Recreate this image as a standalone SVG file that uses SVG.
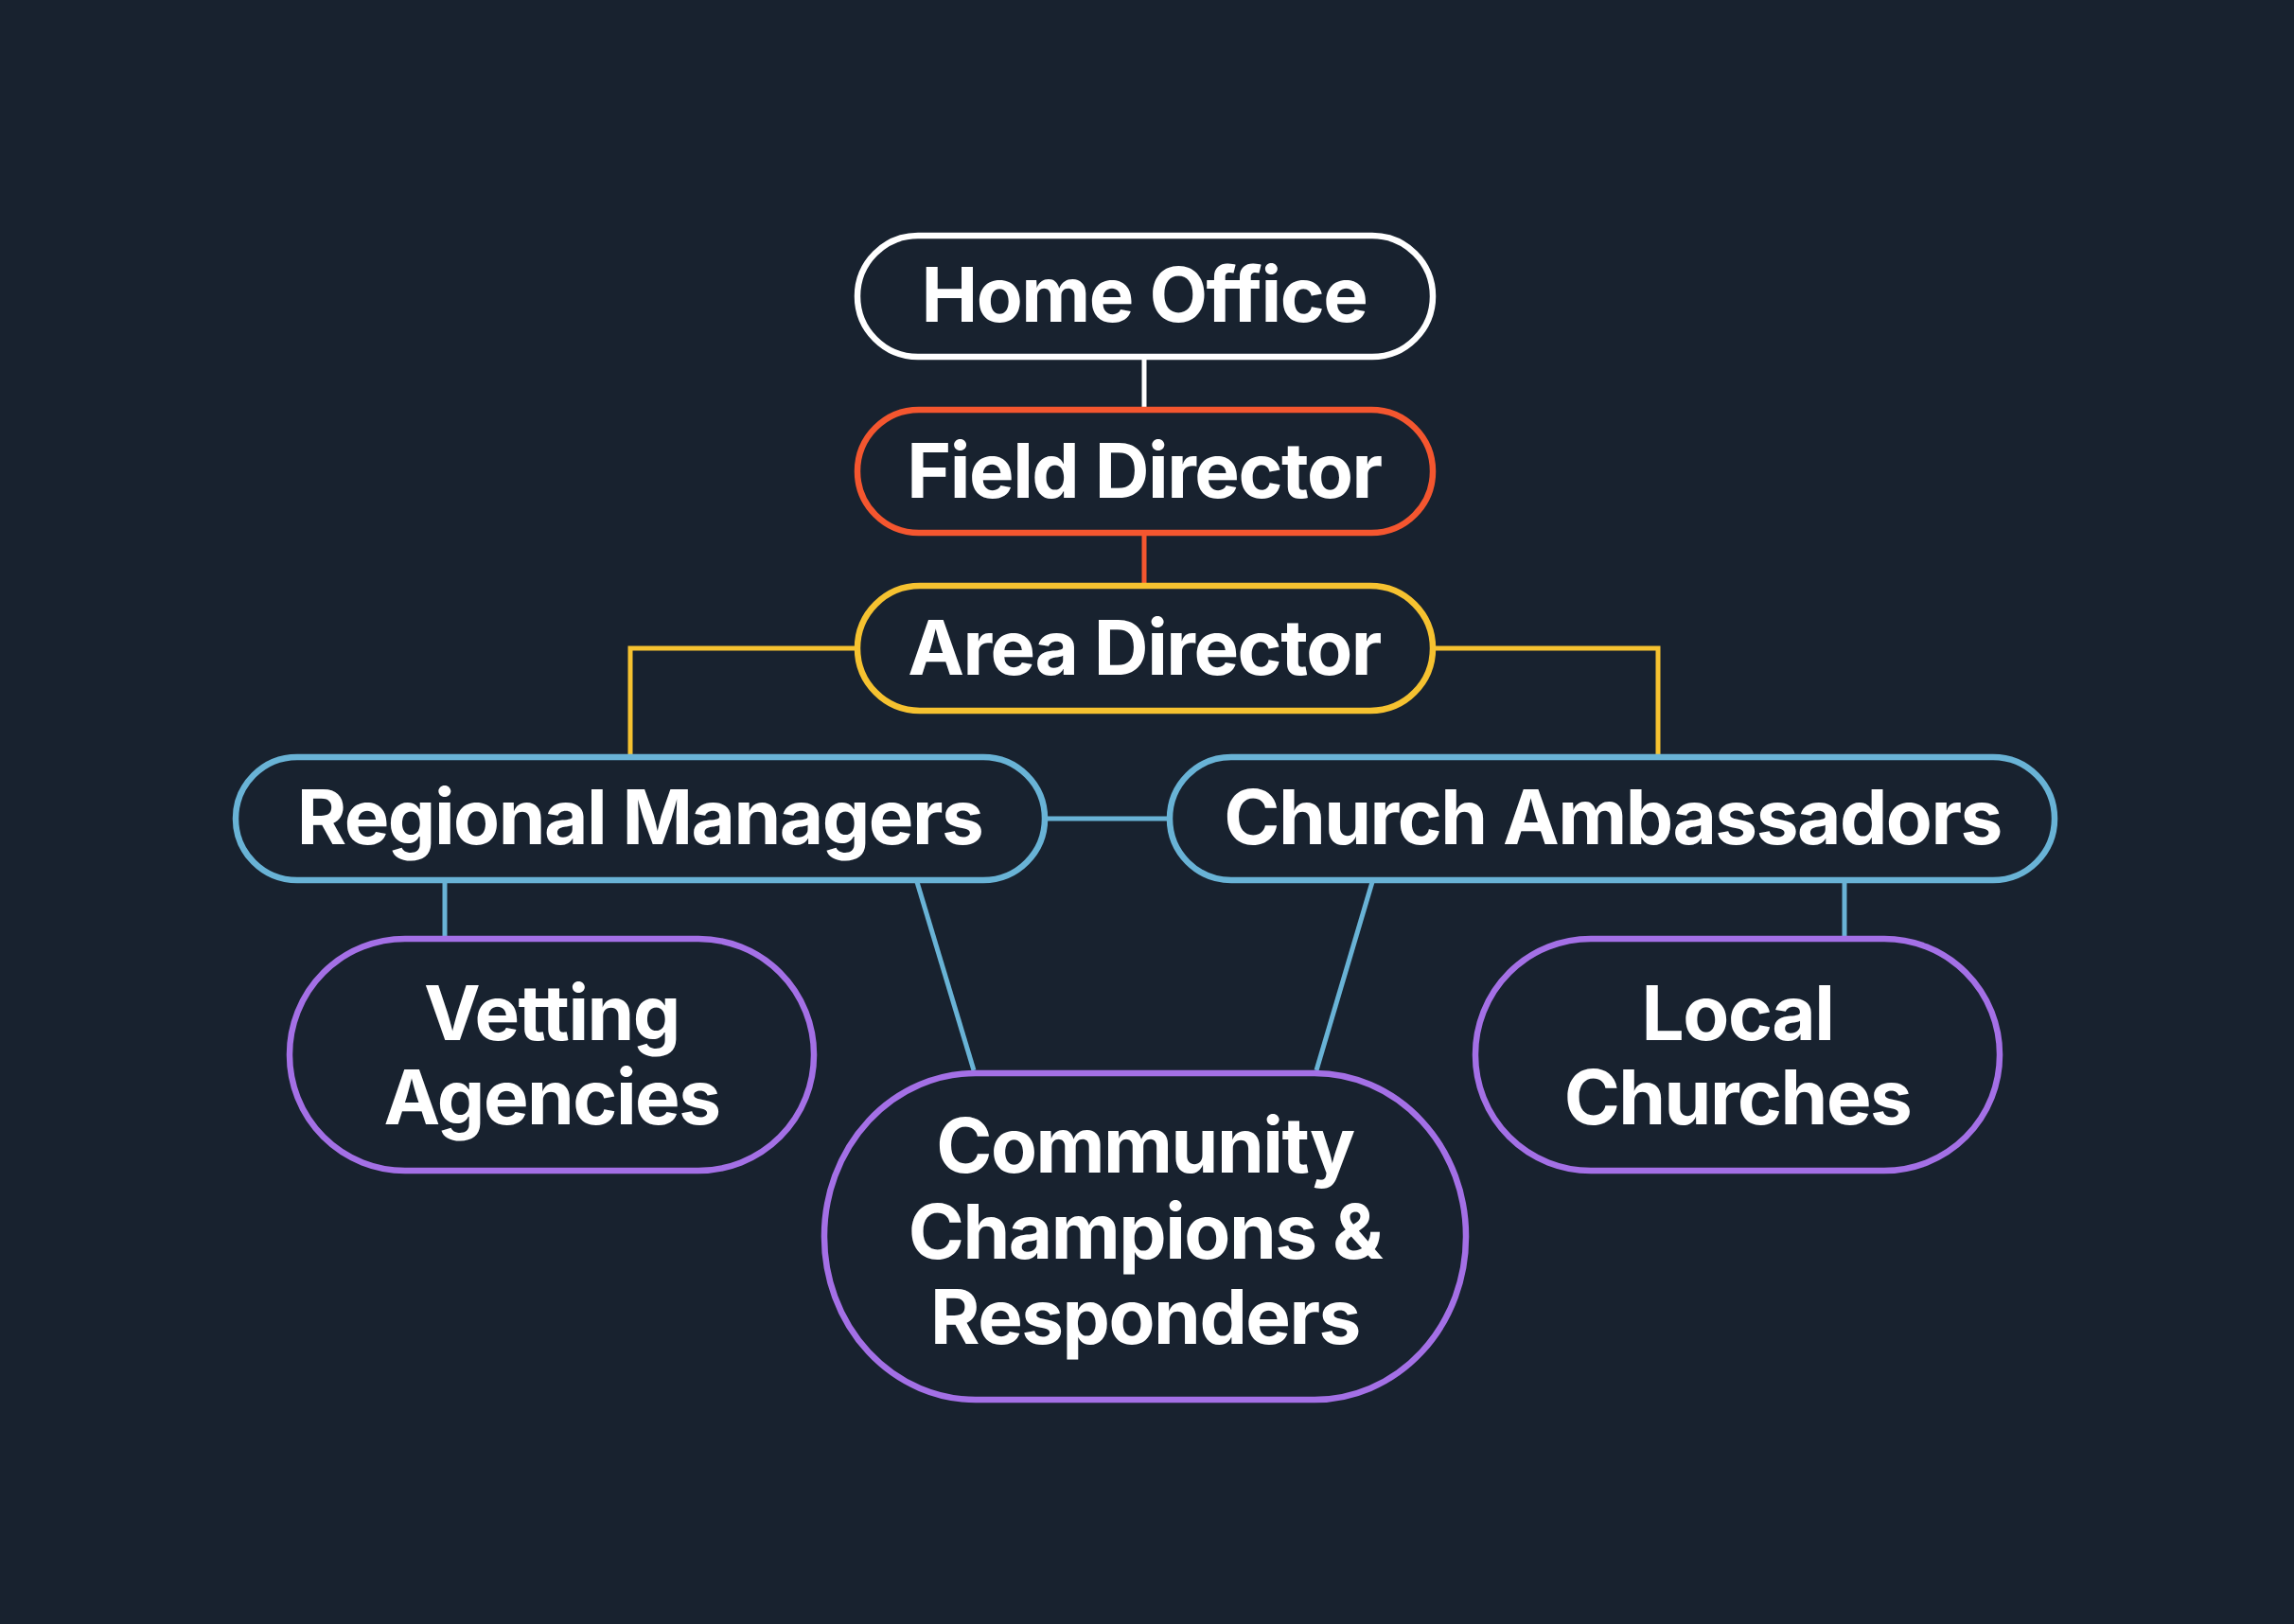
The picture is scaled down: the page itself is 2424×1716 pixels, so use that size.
<svg xmlns="http://www.w3.org/2000/svg" width="2424" height="1716" viewBox="0 0 2424 1716">
<style>
.node{fill:#18222f;stroke-width:6.5}
.t{font-family:Inter,"Noto Sans","Liberation Sans",sans-serif;font-weight:700;font-size:80px;letter-spacing:-1.5px;fill:#ffffff;text-anchor:middle}
.c{fill:none;stroke-width:5}
.w{stroke:#ffffff}.o{stroke:#f4562f}.y{stroke:#f6c230}.b{stroke:#69b3d6}.p{stroke:#a470e6}
</style>
<rect width="2424" height="1716" fill="#18222f"/>
<g id="connectors">
<line class="c w" x1="1209" y1="379" x2="1209" y2="433"/>
<line class="c o" x1="1209" y1="563" x2="1209" y2="618"/>
<polyline class="c y" points="903,685 666,685 666,798"/>
<polyline class="c y" points="1517,685 1752,685 1752,798"/>
<line class="c b" x1="1107" y1="865" x2="1233" y2="865"/>
<line class="c b" x1="470" y1="932" x2="470" y2="989"/>
<line class="c b" x1="969" y1="932" x2="1029" y2="1131"/>
<line class="c b" x1="1450" y1="932" x2="1391" y2="1131"/>
<line class="c b" x1="1949" y1="932" x2="1949" y2="989"/>
</g>
<g id="home-office">
<rect class="node w" x="906" y="249" width="608" height="128" rx="64"/>
<text class="t" x="1209" y="340">Home Office</text>
</g>
<g id="field-director">
<rect class="node o" x="906" y="433" width="608" height="130" rx="65"/>
<text class="t" x="1209" y="526">Field Director</text>
</g>
<g id="area-director">
<rect class="node y" x="906" y="619" width="608" height="132" rx="66"/>
<text class="t" x="1209" y="713">Area Director</text>
</g>
<g id="regional-managers">
<rect class="node b" x="249" y="800" width="855" height="130" rx="65"/>
<text class="t" x="676" y="892">Regional Managers</text>
</g>
<g id="church-ambassadors">
<rect class="node b" x="1236" y="800" width="935" height="130" rx="65"/>
<text class="t" x="1704" y="892">Church Ambassadors</text>
</g>
<g id="vetting-agencies">
<rect class="node p" x="306" y="992" width="554" height="245" rx="122" ry="122"/>
<text class="t" x="583" y="1099">Vetting</text>
<text class="t" x="583" y="1188">Agencies</text>
</g>
<g id="community-champions">
<rect class="node p" x="871" y="1134" width="678" height="345" rx="160" ry="172"/>
<text class="t" x="1210" y="1239">Community</text>
<text class="t" x="1210" y="1330">Champions &amp;</text>
<text class="t" x="1210" y="1420">Responders</text>
</g>
<g id="local-churches">
<rect class="node p" x="1559" y="992" width="554" height="245" rx="122" ry="122"/>
<text class="t" x="1836" y="1099">Local</text>
<text class="t" x="1836" y="1188">Churches</text>
</g>
</svg>
